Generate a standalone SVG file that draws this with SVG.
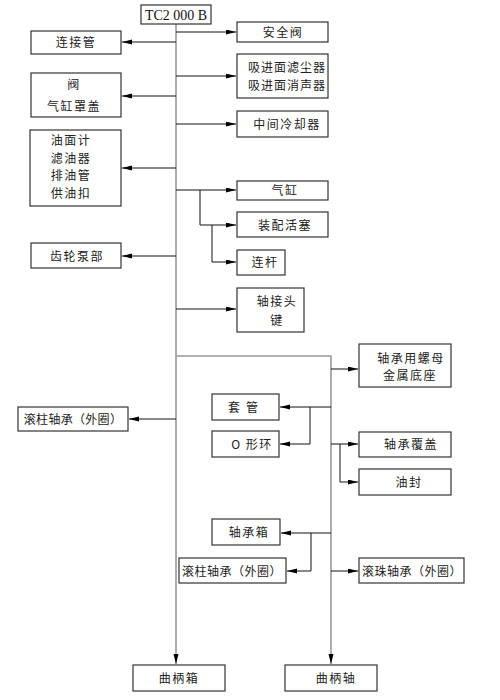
<svg xmlns="http://www.w3.org/2000/svg" width="500" height="700" viewBox="0 0 500 700">
<style>
.box{fill:#fff;stroke:#333;stroke-width:1.2}
.t{font-family:"Noto Sans CJK SC","Noto Sans",sans-serif;font-size:12px;fill:#222;text-anchor:middle;letter-spacing:1.5px}
.tt{font-family:"Liberation Serif",serif;font-size:14px;fill:#111;text-anchor:middle}
.ln{fill:none;stroke:#111;stroke-width:1}
.gr{fill:none;stroke:#999;stroke-width:1.6}
</style>
<defs>
<marker id="a" markerUnits="userSpaceOnUse" markerWidth="11" markerHeight="6" refX="10" refY="2.5" orient="auto">
<path d="M0,0 L10,2.5 L0,5 z" fill="#000"/>
</marker>
</defs>
<g id="connectors">
<path class="gr" d="M176,24 V664" marker-end="url(#a)"/>
<path class="gr" d="M176,356 H331 V664" marker-end="url(#a)"/>
<path class="ln" d="M176,42 H122" marker-end="url(#a)"/>
<path class="ln" d="M176,96 H122" marker-end="url(#a)"/>
<path class="ln" d="M176,168 H122" marker-end="url(#a)"/>
<path class="ln" d="M176,256 H122" marker-end="url(#a)"/>
<path class="ln" d="M176,419 H129" marker-end="url(#a)"/>
<path class="ln" d="M176,32 H236" marker-end="url(#a)"/>
<path class="ln" d="M176,76 H236" marker-end="url(#a)"/>
<path class="ln" d="M176,124 H236" marker-end="url(#a)"/>
<path class="ln" d="M176,190 H236" marker-end="url(#a)"/>
<path class="ln" d="M200,190 V225 H236" marker-end="url(#a)"/>
<path class="ln" d="M212,225 V262 H236" marker-end="url(#a)"/>
<path class="ln" d="M176,309 H236" marker-end="url(#a)"/>
<path class="ln" d="M331,369 H358" marker-end="url(#a)"/>
<path class="ln" d="M331,407 H280" marker-end="url(#a)"/>
<path class="ln" d="M310,407 V444 H280" marker-end="url(#a)"/>
<path class="ln" d="M331,444 H358" marker-end="url(#a)"/>
<path class="ln" d="M340,444 V482 H358" marker-end="url(#a)"/>
<path class="ln" d="M331,533 H281" marker-end="url(#a)"/>
<path class="ln" d="M311,533 V571 H287" marker-end="url(#a)"/>
<path class="ln" d="M331,571 H358" marker-end="url(#a)"/>
</g>
<g id="n-root"><rect class="box" x="141" y="5" width="70" height="19"/><text class="tt" x="176" y="20">TC2 000 B</text></g>
<g id="n-lianjieguan"><rect class="box" x="31" y="31" width="90" height="23"/><text class="t" x="76" y="47">连接管</text></g>
<g id="n-fa"><rect class="box" x="31" y="73" width="90" height="44"/><text class="t" x="74" y="88.5">阀</text><text class="t" x="74" y="110.5">气缸罩盖</text></g>
<g id="n-you"><rect class="box" x="30" y="130" width="91" height="76"/><text class="t" x="71" y="145">油面计</text><text class="t" x="71" y="162.5">滤油器</text><text class="t" x="71" y="180">排油管</text><text class="t" x="71" y="197.5">供油扣</text></g>
<g id="n-chilun"><rect class="box" x="31" y="243" width="90" height="25"/><text class="t" x="77" y="260.5">齿轮泵部</text></g>
<g id="n-gunzhu-l"><rect class="box" x="18" y="407" width="110" height="24"/><text class="t" x="73" y="423.5" style="letter-spacing:0.3px">滚柱轴承（外圈）</text></g>
<g id="n-anquan"><rect class="box" x="237" y="22" width="91" height="20"/><text class="t" x="283" y="36.5">安全阀</text></g>
<g id="n-xijin"><rect class="box" x="237" y="54" width="91" height="44"/><text class="t" x="287" y="72" style="letter-spacing:1px">吸进面滤尘器</text><text class="t" x="287" y="89.5" style="letter-spacing:1px">吸进面消声器</text></g>
<g id="n-zhongjian"><rect class="box" x="237" y="111" width="91" height="26"/><text class="t" x="287" y="128.5">中间冷却器</text></g>
<g id="n-qigang"><rect class="box" x="237" y="181" width="91" height="19"/><text class="t" x="285" y="194.5">气缸</text></g>
<g id="n-zhuangpei"><rect class="box" x="237" y="212" width="91" height="25"/><text class="t" x="285" y="229.5">装配活塞</text></g>
<g id="n-liangan"><rect class="box" x="237" y="250" width="48" height="25"/><text class="t" x="265" y="266.5">连杆</text></g>
<g id="n-zhoujie"><rect class="box" x="237" y="288" width="67" height="44"/><text class="t" x="277" y="305.5">轴接头</text><text class="t" x="277" y="324.5">键</text></g>
<g id="n-taoguan"><rect class="box" x="212" y="394" width="67" height="26"/><text class="t" x="246" y="411.5" style="letter-spacing:6px">套管</text></g>
<g id="n-oxing"><rect class="box" x="212" y="431" width="67" height="26"/><text class="t" x="252" y="448.5">O 形环</text></g>
<g id="n-luomu"><rect class="box" x="359" y="344" width="92" height="43"/><text class="t" x="411" y="362.5">轴承用螺母</text><text class="t" x="410" y="380">金属底座</text></g>
<g id="n-fugai"><rect class="box" x="359" y="432" width="92" height="25"/><text class="t" x="411" y="448.5">轴承覆盖</text></g>
<g id="n-youfeng"><rect class="box" x="359" y="469" width="92" height="26"/><text class="t" x="409" y="486.5">油封</text></g>
<g id="n-zhouchengxiang"><rect class="box" x="212" y="519" width="68" height="26"/><text class="t" x="249" y="536.5">轴承箱</text></g>
<g id="n-gunzhu-r"><rect class="box" x="179" y="558" width="107" height="25"/><text class="t" x="232" y="575.5" style="letter-spacing:0.5px">滚柱轴承（外圈）</text></g>
<g id="n-gunzhuball"><rect class="box" x="359" y="558" width="105" height="25"/><text class="t" x="412" y="575.5" style="letter-spacing:0.5px">滚珠轴承（外圈）</text></g>
<g id="n-quxiang"><rect class="box" x="133" y="665" width="92" height="26"/><text class="t" x="179" y="682.5">曲柄箱</text></g>
<g id="n-quzhou"><rect class="box" x="285" y="665" width="92" height="26"/><text class="t" x="336" y="682.5">曲柄轴</text></g>
</svg>
